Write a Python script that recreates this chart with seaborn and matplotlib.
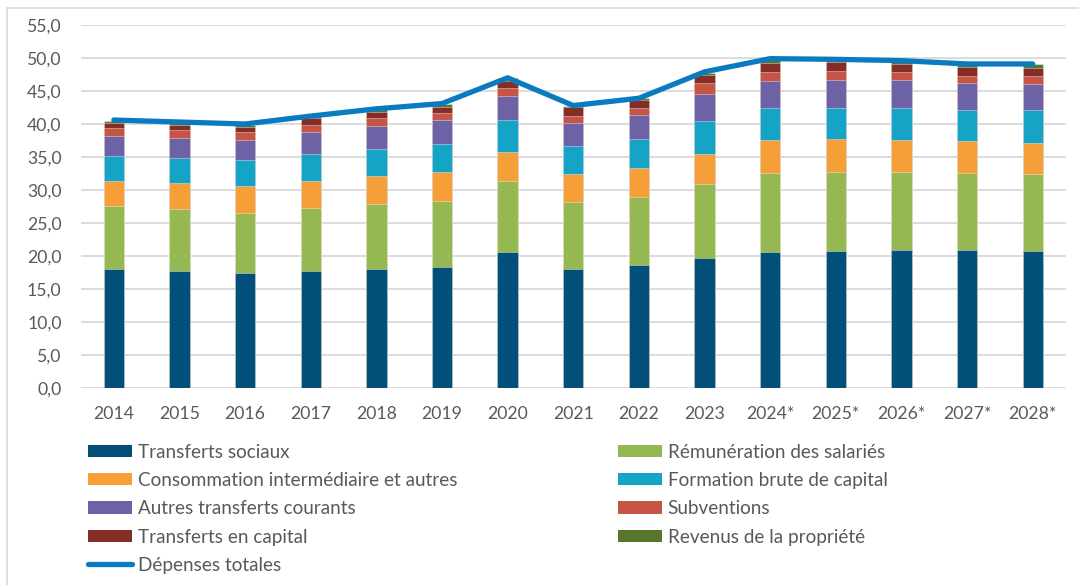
import numpy as np
import pandas as pd
import matplotlib
matplotlib.use("Agg")
import matplotlib.pyplot as plt
from matplotlib.patches import Patch
from matplotlib.lines import Line2D
from matplotlib.ticker import FuncFormatter, MultipleLocator
import seaborn as sns

# ---- data (% of GDP) ----
years = ["2014", "2015", "2016", "2017", "2018", "2019", "2020", "2021", "2022",
         "2023", "2024*", "2025*", "2026*", "2027*", "2028*"]
transferts_sociaux = [18.1, 17.7, 17.4, 17.8, 18.0, 18.3, 20.6, 18.1, 18.65, 19.7,
                      20.55, 20.7, 20.85, 20.85, 20.8]
remuneration = [9.5, 9.4, 9.1, 9.5, 9.95, 10.1, 10.75, 10.15, 10.25, 11.15,
                12.05, 12.05, 11.9, 11.8, 11.6]
consommation = [3.8, 3.9, 4.15, 4.1, 4.15, 4.3, 4.35, 4.2, 4.5, 4.65,
                5.0, 4.95, 4.85, 4.7, 4.65]
formation_capital = [3.75, 3.85, 3.9, 4.05, 4.1, 4.25, 4.9, 4.2, 4.35, 4.95,
                     4.75, 4.75, 4.85, 4.75, 5.0]
autres_transferts = [3.05, 3.1, 3.1, 3.35, 3.5, 3.6, 3.6, 3.5, 3.55, 4.1,
                     4.1, 4.25, 4.2, 4.1, 4.0]
subventions = [1.25, 1.2, 1.15, 1.1, 1.25, 1.15, 1.2, 1.1, 1.2, 1.6,
               1.5, 1.3, 1.2, 1.1, 1.15]
transferts_capital = [0.65, 0.65, 0.7, 0.95, 0.9, 0.9, 1.05, 1.25, 1.15, 1.3,
                      1.35, 1.35, 1.25, 1.3, 1.3]
revenus_propriete = [0.4, 0.35, 0.4, 0.35, 0.5, 0.4, 0.45, 0.3, 0.25, 0.35,
                     0.5, 0.4, 0.5, 0.45, 0.55]
depenses_totales = [40.6, 40.3, 40.0, 41.2, 42.3, 43.1, 47.0, 42.8, 43.9, 47.9,
                    49.9, 49.8, 49.6, 49.1, 49.1]

labels = ["Transferts sociaux", "Rémunération des salariés",
          "Consommation intermédiaire et autres", "Formation brute de capital",
          "Autres transferts courants", "Subventions",
          "Transferts en capital", "Revenus de la propriété"]
series = [transferts_sociaux, remuneration, consommation, formation_capital,
          autres_transferts, subventions, transferts_capital, revenus_propriete]
colors = ["#02507A", "#95B853", "#F69E37", "#15A3C6",
          "#6E62A6", "#C75546", "#852E27", "#57772F"]
line_color = "#0A7BC1"
text_color = "#595959"
grid_color = "#D9D9D9"

# ---- style ----
sns.set_theme(style="white")
plt.rcParams["font.family"] = ["Lato", "DejaVu Sans"]

fig = plt.figure(figsize=(10.79, 5.85), dpi=100)
ax = fig.add_axes([81 / 1079, 1 - 388 / 585, (1065.5 - 81) / 1079, (388 - 25) / 585])

# stacked bars: draw cumulative heights from the top layer down
df = pd.DataFrame({lab: vals for lab, vals in zip(labels, series)}, index=years)
cum = df.cumsum(axis=1)
for lab, col in reversed(list(zip(labels, colors))):
    sns.barplot(x=years, y=cum[lab].values, color=col, saturation=1,
                width=0.31, ax=ax, edgecolor=(1, 1, 1, 0.45), linewidth=0.6,
                zorder=2)

# total expenditure line
sns.lineplot(x=np.arange(len(years)), y=depenses_totales, color=line_color,
             linewidth=3.8, ax=ax, sort=False, zorder=3,
             solid_capstyle="round", solid_joinstyle="round")

# ---- axes ----
ax.set_xlim(-0.5, len(years) - 0.5)
ax.set_ylim(0, 55)
ax.yaxis.set_major_locator(MultipleLocator(5))
ax.yaxis.set_major_formatter(FuncFormatter(lambda v, p: f"{v:.1f}".replace(".", ",")))
ax.set_xticks(np.arange(len(years)))
ax.set_xticklabels(years)
ax.set_xlabel("")
ax.set_ylabel("")
ax.grid(axis="y", color=grid_color, linewidth=1.3, zorder=0)
ax.set_axisbelow(True)
for s in ax.spines.values():
    s.set_visible(False)
ax.tick_params(axis="both", length=0, labelsize=12.7, colors=text_color)
ax.tick_params(axis="y", pad=14)
ax.tick_params(axis="x", pad=13)

# ---- legend in two columns ----
handles = [Patch(facecolor=c, linewidth=0) for c in colors]
line_handle = Line2D([0], [0], color=line_color, linewidth=3.8, solid_capstyle="round")

leg_kw = dict(frameon=False, fontsize=13.6, labelcolor=text_color,
              handlelength=2.35, handleheight=0.62, handletextpad=0.28,
              labelspacing=0.6, borderpad=0, borderaxespad=0, loc="upper left")
col1 = fig.legend([handles[0], handles[2], handles[4], handles[6], line_handle],
                  [labels[0], labels[2], labels[4], labels[6], "Dépenses totales"],
                  bbox_to_anchor=(88 / 1079, 1 - 443.5 / 585), **leg_kw)
col2 = fig.legend([handles[1], handles[3], handles[5], handles[7]],
                  [labels[1], labels[3], labels[5], labels[7]],
                  bbox_to_anchor=(618 / 1079, 1 - 443.5 / 585), **leg_kw)

# chart frame (left and top edges visible)
fig.add_artist(Line2D([7 / 1079, 7 / 1079], [0, 1 - 8 / 585],
                      transform=fig.transFigure, color=grid_color, linewidth=1.2))
fig.add_artist(Line2D([7 / 1079, 1], [1 - 8 / 585, 1 - 8 / 585],
                      transform=fig.transFigure, color=grid_color, linewidth=1.2))

fig.savefig("out.png", dpi=100, facecolor="white")
